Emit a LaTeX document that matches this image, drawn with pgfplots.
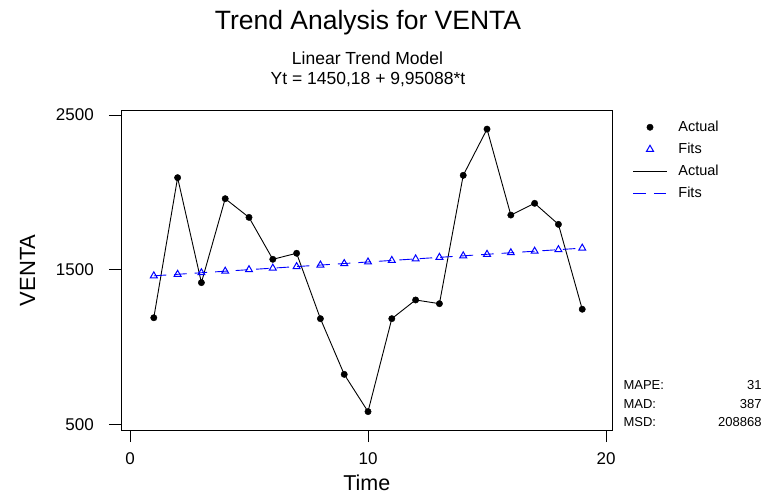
\documentclass[border=0pt]{standalone}
\usepackage{fontspec}
\setmainfont{Liberation Sans}
\usepackage{pgfplots}
\pgfplotsset{compat=1.18}
\pgfplotstableread{
t venta
1 1189
2 2095
3 1416
4 1959
5 1838
6 1567
7 1606
8 1183
9 823
10 582
11 1183
12 1304
13 1280
14 2110
15 2409
16 1853
17 1929
18 1793
19 1244
}\actual
\pgfplotstableread{
t fit
1 1460.13
2 1470.08
3 1480.03
4 1489.98
5 1499.93
6 1509.89
7 1519.84
8 1529.79
9 1539.74
10 1549.69
11 1559.64
12 1569.59
13 1579.54
14 1589.49
15 1599.44
16 1609.39
17 1619.35
18 1629.30
19 1639.25
}\fits
\begin{document}
\begin{tikzpicture}[x=1pt,y=1pt]
\useasboundingbox (0,0) rectangle (765,496);
\begin{axis}[
  at={(121pt,66pt)}, anchor=south west,
  scale only axis, width=491.7pt, height=319.3pt,
  xmin=-0.378, xmax=20.28, ymin=463, ymax=2528,
  xtick={0,10,20}, ytick={500,1500,2500},
  tick pos=left, tick align=outside, major tick length=12pt,
  axis line style={line width=0.8pt}, every tick/.style={black, line width=0.8pt},
  /pgf/number format/assume math mode=true,
  /pgf/number format/1000 sep={},
  ticklabel style={font=\fontsize{17}{20}\selectfont},
  xticklabel style={anchor=north, inner sep=0pt, yshift=-10pt},
  yticklabel style={anchor=east, inner sep=0pt, xshift=-15pt},
  xlabel={Time}, ylabel={VENTA},
  xlabel style={font=\fontsize{21.5}{25}\selectfont, at={(axis description cs:0.5,-0.190)}, anchor=base},
  ylabel style={font=\fontsize{22}{26}\selectfont, at={(axis description cs:-0.190,0.5)}, anchor=center},
  legend style={at={(rel axis cs:1.0407,0.9707)}, anchor=north west, draw=none, fill=none,
    inner sep=0pt, row sep=8pt, column sep=0pt,
    nodes={inner sep=0pt, text height=11pt, text depth=3pt, font=\fontsize{14.5}{17}\selectfont}},
  legend cell align=left,
  legend image code/.code={\draw[mark repeat=2,mark phase=2,#1] plot coordinates {(0pt,0pt)(16.65pt,0pt)(33.3pt,0pt)}; \path (44.6pt,0pt);},
]
\addplot[only marks, mark=*, mark size=3.2pt, black] table[x=t,y=venta] {\actual};
\addlegendentry{Actual}
\addplot[only marks, mark=triangle, mark size=4pt, blue, mark options={line width=1pt}] table[x=t,y=fit] {\fits};
\addlegendentry{Fits}
\addplot[black, line width=0.9pt, mark=none] table[x=t,y=venta] {\actual};
\addlegendentry{Actual}
\addplot[blue, line width=0.9pt, dash pattern=on 12.5pt off 8pt, mark=none] table[x=t,y=fit] {\fits};
\addlegendentry{Fits}
\end{axis}
\node[anchor=base, font=\fontsize{26.5}{30}\selectfont] at (368,466) {Trend Analysis for VENTA};
\node[anchor=base, font=\fontsize{17.5}{20}\selectfont] at (367.5,431.7) {Linear Trend Model};
\node[anchor=base, font=\fontsize{17.5}{20}\selectfont] at (368,411) {Yt = 1450,18 + 9,95088*t};
\begin{scope}[every node/.style={font=\fontsize{13}{15}\selectfont, inner sep=0pt}]
\node[anchor=base west] at (623.3,106.7) {MAPE:};
\node[anchor=base east] at (761.7,106.7) {31};
\node[anchor=base west] at (623.3,87.7) {MAD:};
\node[anchor=base east] at (761.7,87.7) {387};
\node[anchor=base west] at (623.3,69.3) {MSD:};
\node[anchor=base east] at (761.7,69.3) {208868};
\end{scope}
\end{tikzpicture}
\end{document}
